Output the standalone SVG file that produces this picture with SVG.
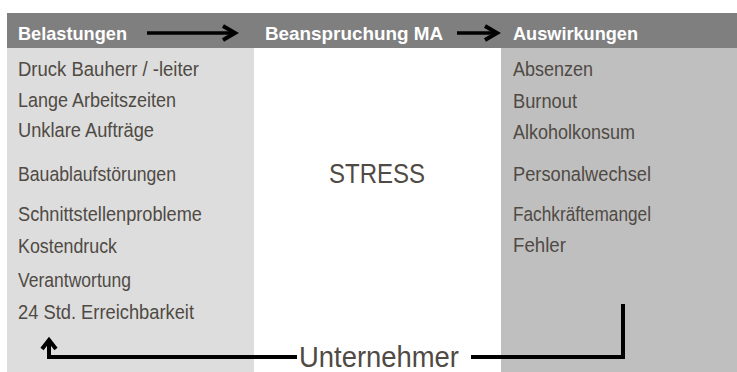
<svg xmlns="http://www.w3.org/2000/svg" width="737" height="372" viewBox="0 0 737 372">
<style>
.hd{font-family:"Liberation Sans",Arial,sans-serif;font-weight:bold;font-size:19px;fill:#ffffff}
.it{font-family:"Liberation Sans",Arial,sans-serif;font-size:20.5px;fill:#4f4a44}
.big{font-family:"Liberation Sans",Arial,sans-serif;fill:#4f4a44}
.ln{fill:none;stroke:#000;stroke-width:4}
.hl{fill:none;stroke:#000;stroke-width:3.5}
.ah{fill:none;stroke:#000;stroke-width:4;stroke-linejoin:miter;stroke-linecap:butt}
</style>
<rect x="0" y="0" width="737" height="372" fill="#ffffff"/>
<g id="panels">
<rect x="7" y="13" width="730" height="35" fill="#7f7f7f"/>
<rect x="7" y="48" width="247" height="324" fill="#dddddd"/>
<rect x="501" y="48" width="236" height="324" fill="#bfbfbf"/>
</g>
<g id="belastungen">
<text class="hd" x="18" y="40" textLength="109" lengthAdjust="spacingAndGlyphs">Belastungen</text>
<text class="it" x="18" y="76" textLength="181" lengthAdjust="spacingAndGlyphs">Druck Bauherr / -leiter</text>
<text class="it" x="18" y="107" textLength="158" lengthAdjust="spacingAndGlyphs">Lange Arbeitszeiten</text>
<text class="it" x="18" y="137" textLength="136" lengthAdjust="spacingAndGlyphs">Unklare Aufträge</text>
<text class="it" x="18" y="181" textLength="158" lengthAdjust="spacingAndGlyphs">Bauablaufstörungen</text>
<text class="it" x="18" y="221" textLength="184" lengthAdjust="spacingAndGlyphs">Schnittstellenprobleme</text>
<text class="it" x="18" y="253" textLength="99" lengthAdjust="spacingAndGlyphs">Kostendruck</text>
<text class="it" x="18" y="287" textLength="113" lengthAdjust="spacingAndGlyphs">Verantwortung</text>
<text class="it" x="18" y="319" textLength="176" lengthAdjust="spacingAndGlyphs">24 Std. Erreichbarkeit</text>
</g>
<g id="beanspruchung">
<text class="hd" x="265" y="40" textLength="178" lengthAdjust="spacingAndGlyphs">Beanspruchung MA</text>
<text class="big" x="329" y="183" font-size="27" textLength="96" lengthAdjust="spacingAndGlyphs">STRESS</text>
</g>
<g id="auswirkungen">
<text class="hd" x="513" y="40" textLength="125" lengthAdjust="spacingAndGlyphs">Auswirkungen</text>
<text class="it" x="513" y="76" textLength="80" lengthAdjust="spacingAndGlyphs">Absenzen</text>
<text class="it" x="513" y="108" textLength="64" lengthAdjust="spacingAndGlyphs">Burnout</text>
<text class="it" x="513" y="139" textLength="122" lengthAdjust="spacingAndGlyphs">Alkoholkonsum</text>
<text class="it" x="513" y="181" textLength="138" lengthAdjust="spacingAndGlyphs">Personalwechsel</text>
<text class="it" x="513" y="221" textLength="138" lengthAdjust="spacingAndGlyphs">Fachkräftemangel</text>
<text class="it" x="513" y="252" textLength="53" lengthAdjust="spacingAndGlyphs">Fehler</text>
</g>
<g id="unternehmer">
<text class="big" x="299" y="367" font-size="29" textLength="160" lengthAdjust="spacingAndGlyphs">Unternehmer</text>
</g>
<g id="connectors">
<line class="hl" x1="147" y1="33" x2="233" y2="33"/>
<polyline class="ah" points="223,26 235,33 223,40"/>
<line class="hl" x1="457" y1="33" x2="494" y2="33"/>
<polyline class="ah" points="485,26 497,33 485,40"/>
<polyline class="ln" points="297,357 49,357 49,343"/>
<polyline class="ah" points="42,349 49,340 56,349"/>
<polyline class="ln" points="471,357 623,357 623,304"/>
</g>
</svg>
